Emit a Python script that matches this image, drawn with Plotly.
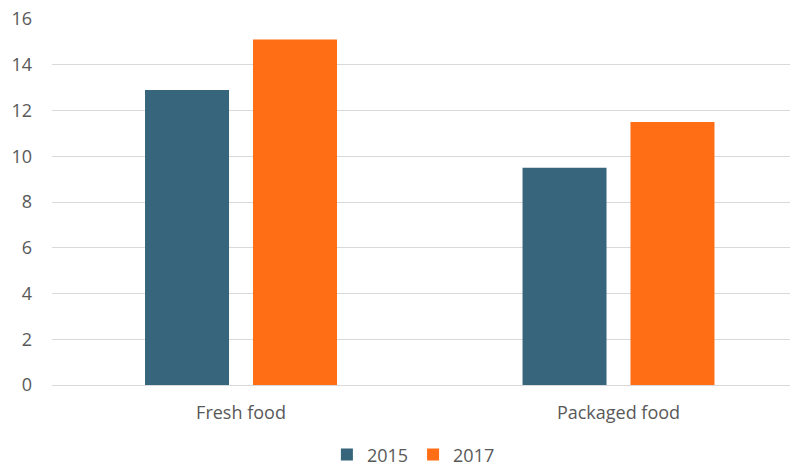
import plotly.graph_objects as go

categories = ["Fresh food", "Packaged food"]
series_names = ["2015", "2017"]
values_2015 = [12.9, 9.5]
values_2017 = [15.1, 11.5]
y_ticks = [0, 2, 4, 6, 8, 10, 12, 14, 16]

colors = ["#37657b", "#ff6d15"]
font_family = "Open Sans, Lato, sans-serif"

fig = go.Figure()
for name, vals, col in zip(series_names, [values_2015, values_2017], colors):
    fig.add_trace(go.Bar(x=categories, y=vals, name=name, marker=dict(color=col, line=dict(width=0))))

fig.update_layout(
    width=798, height=468,
    margin=dict(l=52, r=8, t=19, b=83, autoexpand=False),
    paper_bgcolor="white", plot_bgcolor="white",
    barmode="group", bargap=0.428, bargroupgap=0.222,
    font=dict(family=font_family, size=18, color="#595959"),
    showlegend=True,
    legend=dict(orientation="h", x=0.4897, xanchor="center", y=-0.191, yanchor="middle",
                font=dict(size=18, color="#595959"), itemwidth=30, traceorder="normal",
                itemclick=False),
)
fig.update_xaxes(range=[-0.5007, 1.4543], showgrid=False, showline=True, linecolor="#d9d9d9", linewidth=1,
                 ticks="", ticklabelstandoff=11, automargin=False,
                 tickfont=dict(size=18, color="#595959"))
fig.update_yaxes(range=[0, 16], tickvals=y_ticks, showgrid=True, gridcolor="#d9d9d9", gridwidth=1,
                 zeroline=False, showline=False, ticks="", ticklabelstandoff=19, automargin=False,
                 tickfont=dict(size=18, color="#595959"))

fig.write_html("out.html", config={"displayModeBar": False},
               post_script="document.body.style.margin='0';document.body.style.overflow='hidden';")
